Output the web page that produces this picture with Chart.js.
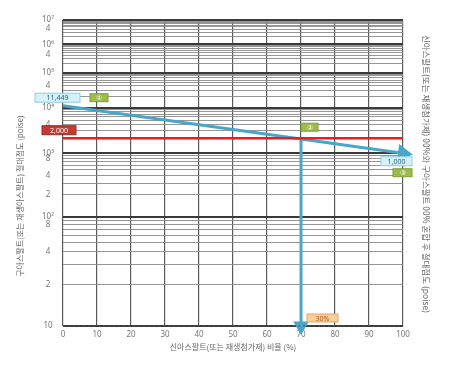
<!DOCTYPE html>
<html>
<head>
<meta charset="utf-8">
<script src="https://cdn.jsdelivr.net/npm/chart.js@4.4.0/dist/chart.umd.min.js"></script>
<style>
  body { margin: 0; background: #fff; }
  #wrap { width: 460px; height: 370px; }
</style>
</head>
<body>
<div id="wrap"><canvas id="grafico"></canvas></div>
<script>
// Datos del gráfico (valores de viscosidad en poise)
const xTicks = [0, 10, 20, 30, 40, 50, 60, 70, 80, 90, 100];
const yLabelValues = [10, 20, 40, 80, 100, 200, 400, 800, 1000, 4000, 10000, 40000, 100000, 400000, 1000000, 4000000, 10000000];
const yLabelTexts = ["10", "2", "4", "8", "10²", "2", "4", "8", "10³", "4", "10⁴", "4", "10⁵", "4", "10⁶", "4", "10⁷"];

const mezclaX = [0, 100];
const mezclaY = [11449, 1000];
const objetivoX = [0, 100];
const objetivoY = [2000, 2000];
const proporcionX = [70, 70];
const proporcionY = [2000, 10];

const tituloIzq = "구아스팔트(또는 재생아스팔트) 절대점도 (poise)";
const tituloDer = "신아스팔트(또는 재생첨가제) 00%와 구아스팔트 00% 혼합 후 절대점도 (poise)";

const etiquetas = [
  { text: "11,449", x: 0, y: 11449, dx: -5.5, dy: -8, w: 45, h: 9, tipo: "azul" },
  { text: "①", x: 10, y: 11449, dx: 2, dy: -8, w: 18, h: 8, tipo: "verde" },
  { text: "2,000", x: 0, y: 2000, dx: -4, dy: -8, w: 34, h: 9, tipo: "rojo" },
  { text: "②", x: 70, y: 2000, dx: 8.5, dy: -11, w: 17, h: 8, tipo: "verde" },
  { text: "1,000", x: 100, y: 1000, dx: -6.5, dy: 8, w: 31, h: 9, tipo: "azul" },
  { text: "③", x: 100, y: 1000, dx: -0.5, dy: 19.5, w: 19, h: 8, tipo: "verde" },
  { text: "30%", x: 70, y: 10, dx: 21.5, dy: -8, w: 31, h: 8, tipo: "naranja" },
];

// Escala log-log (carta de mezcla de viscosidad)
const ll = (v) => Math.log10(Math.log10(v));

// Líneas de la retícula: 1..9 x 10^n
let gridValues = [];
for (let n = 1; n <= 6; n++) {
  for (let m = 1; m <= 9; m++) gridValues.push(m * Math.pow(10, n));
}
gridValues.push(10000000);

const estilos = {
  azul: { fill: "#d4f1fa", stroke: "#8fcfe3", color: "#2b5f7a" },
  verde: { fill: "#9cbc4c", stroke: "#7f9e36", color: "#ffffff" },
  rojo: { fill: "#c23a32", stroke: "#9e2a24", color: "#ffffff" },
  naranja: { fill: "#f9cf9a", stroke: "#e8a461", color: "#b25a1a" },
};

const etiquetasPlugin = {
  id: "etiquetas",
  afterDatasetsDraw(chart) {
    const ctx = chart.ctx;
    const xs = chart.scales.x;
    const ys = chart.scales.y;
    const area = chart.chartArea;
    ctx.save();

    // línea punteada del eje x
    ctx.strokeStyle = "#555";
    ctx.lineWidth = 1;
    ctx.setLineDash([2, 3]);
    ctx.beginPath();
    ctx.moveTo(area.left, area.bottom);
    ctx.lineTo(area.right, area.bottom);
    ctx.stroke();
    ctx.setLineDash([]);

    etiquetas.forEach((e) => {
      const s = estilos[e.tipo];
      const cx = xs.getPixelForValue(e.x) + e.dx;
      const cy = ys.getPixelForValue(ll(e.y)) + e.dy;
      ctx.fillStyle = s.fill;
      ctx.strokeStyle = s.stroke;
      ctx.lineWidth = 1;
      ctx.fillRect(cx - e.w / 2, cy - e.h / 2, e.w, e.h);
      ctx.strokeRect(cx - e.w / 2, cy - e.h / 2, e.w, e.h);
      ctx.fillStyle = s.color;
      ctx.font = "7px 'Noto Sans'";
      ctx.textAlign = "center";
      ctx.textBaseline = "middle";
      ctx.fillText(e.text, cx, cy + 0.5);
    });

    // títulos verticales
    ctx.fillStyle = "#666";
    ctx.font = "8px 'Noto Sans CJK KR'";
    ctx.textAlign = "center";
    ctx.textBaseline = "middle";
    ctx.save();
    ctx.translate(20, 196);
    ctx.rotate(-Math.PI / 2);
    ctx.fillText(tituloIzq, 0, 0);
    ctx.restore();
    ctx.save();
    ctx.font = "8.5px 'Noto Sans CJK KR'";
    ctx.translate(426, 174);
    ctx.rotate(Math.PI / 2);
    ctx.fillText(tituloDer, 0, 0);
    ctx.restore();

    ctx.restore();
  },
};

const toPoints = (xsArr, ysArr) => xsArr.map((x, i) => ({ x: x, y: ll(ysArr[i]) }));

const ctx = document.getElementById("grafico").getContext("2d");
new Chart(ctx, {
  type: "line",
  data: {
    datasets: [
      {
        label: "목표",
        data: toPoints(objetivoX, objetivoY),
        borderColor: "#ee1c1c",
        borderWidth: 2.5,
        pointRadius: 0,
        fill: false,
      },
      {
        label: "혼합",
        data: toPoints(mezclaX, mezclaY),
        borderColor: "#4aa6c9",
        backgroundColor: "#4aa6c9",
        borderWidth: 3,
        pointStyle: "triangle",
        pointRadius: (c) => (c.dataIndex === 1 ? 7 : 0),
        rotation: 98,
        clip: false,
        fill: false,
      },
      {
        label: "비율",
        data: toPoints(proporcionX, proporcionY),
        borderColor: "#4aa6c9",
        backgroundColor: "#4aa6c9",
        borderWidth: 3,
        pointStyle: "triangle",
        pointRadius: (c) => (c.dataIndex === 1 ? 6 : 0),
        rotation: 180,
        clip: false,
        fill: false,
      },
    ],
  },
  options: {
    responsive: true,
    maintainAspectRatio: false,
    animation: false,
    layout: { padding: { top: 20, left: 0, right: 0, bottom: 0 } },
    plugins: {
      legend: { display: false },
      tooltip: { enabled: false },
    },
    scales: {
      x: {
        type: "linear",
        min: 0,
        max: 100,
        afterBuildTicks: (scale) => {
          scale.ticks = xTicks.map((v) => ({ value: v }));
        },
        afterFit: (scale) => {
          scale.height = 44;
        },
        grid: { color: "#5a5a5a", lineWidth: 1.2, drawTicks: false },
        border: { display: false },
        ticks: {
          padding: 4,
          color: "#777",
          font: { family: "'Noto Sans'", size: 8 },
        },
        title: {
          display: true,
          text: "신아스팔트(또는 재생첨가제) 비율 (%)",
          color: "#666",
          font: { family: "'Noto Sans CJK KR'", size: 8 },
          padding: { top: 5, bottom: 18 },
        },
      },
      y: {
        type: "linear",
        position: "left",
        min: ll(10),
        max: ll(10000000),
        afterBuildTicks: (scale) => {
          scale.ticks = gridValues.map((v) => ({ value: ll(v) }));
        },
        afterFit: (scale) => {
          scale.width = 63;
        },
        grid: {
          drawTicks: false,
          color: (c) => {
            const v = gridValues[c.index];
            return v && Number.isInteger(Math.log10(v)) ? "#3a3a3a" : "#8a8a8a";
          },
          lineWidth: (c) => {
            const v = gridValues[c.index];
            return v && Number.isInteger(Math.log10(v)) ? 2 : 0.9;
          },
        },
        border: { display: false },
        ticks: {
          autoSkip: false,
          crossAlign: "center",
          padding: 9,
          color: "#777",
          font: { family: "'Noto Sans'", size: 8 },
          callback: (val, i) => {
            const k = yLabelValues.indexOf(gridValues[i]);
            return k >= 0 ? yLabelTexts[k] : "";
          },
        },
      },
      y2: {
        type: "linear",
        position: "right",
        min: 0,
        max: 1,
        afterFit: (scale) => {
          scale.width = 57;
        },
        grid: { display: false },
        border: { display: false },
        ticks: { display: false },
      },
    },
  },
  plugins: [etiquetasPlugin],
});
</script>
</body>
</html>
